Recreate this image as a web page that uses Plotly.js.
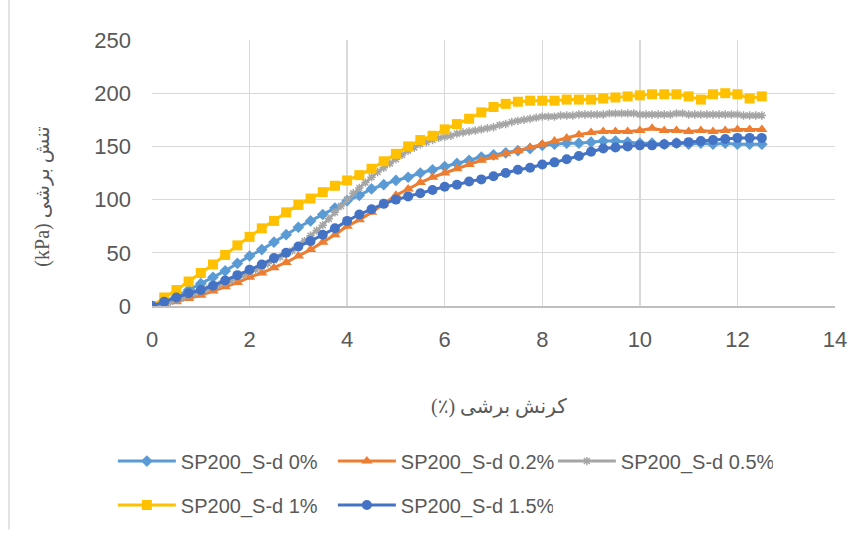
<!DOCTYPE html>
<html>
<head>
<meta charset="utf-8">
<script src="https://cdn.plot.ly/plotly-3.0.1.min.js"></script>
<style>
  html, body { margin: 0; padding: 0; background: #ffffff; }
  #chart { width: 866px; height: 536px; }
</style>
</head>
<body>
<div id="chart"></div>
<script>
// Shear strain (%) sampled every 0.25 %
const strain = [0, 0.25, 0.5, 0.75, 1, 1.25, 1.5, 1.75, 2, 2.25, 2.5, 2.75, 3, 3.25, 3.5, 3.75,
  4, 4.25, 4.5, 4.75, 5, 5.25, 5.5, 5.75, 6, 6.25, 6.5, 6.75, 7, 7.25, 7.5, 7.75,
  8, 8.25, 8.5, 8.75, 9, 9.25, 9.5, 9.75, 10, 10.25, 10.5, 10.75, 11, 11.25, 11.5, 11.75,
  12, 12.25, 12.5];

// The 0.5 % test was logged every 0.125 %
const strainFine = [0, 0.125, 0.25, 0.375, 0.5, 0.625, 0.75, 0.875, 1, 1.125, 1.25, 1.375, 1.5, 1.625, 1.75, 1.875,
  2, 2.125, 2.25, 2.375, 2.5, 2.625, 2.75, 2.875, 3, 3.125, 3.25, 3.375, 3.5, 3.625, 3.75, 3.875,
  4, 4.125, 4.25, 4.375, 4.5, 4.625, 4.75, 4.875, 5, 5.125, 5.25, 5.375, 5.5, 5.625, 5.75, 5.875,
  6, 6.125, 6.25, 6.375, 6.5, 6.625, 6.75, 6.875, 7, 7.125, 7.25, 7.375, 7.5, 7.625, 7.75, 7.875,
  8, 8.125, 8.25, 8.375, 8.5, 8.625, 8.75, 8.875, 9, 9.125, 9.25, 9.375, 9.5, 9.625, 9.75, 9.875,
  10, 10.125, 10.25, 10.375, 10.5, 10.625, 10.75, 10.875, 11, 11.125, 11.25, 11.375, 11.5, 11.625, 11.75, 11.875,
  12, 12.125, 12.25, 12.375, 12.5];

// Shear stress (kPa)
const stress0 = [0, 4, 9, 15, 21, 27, 33, 40, 47, 53, 60, 67, 74, 80, 86, 92,
  99, 104, 110, 114, 118, 121, 125, 128, 131, 134, 137, 140, 142, 144, 146, 148,
  151, 152, 153, 153, 154, 155, 155, 154, 153, 153, 152, 153, 152, 153, 152, 153,
  152, 152, 152];

const stress02 = [0, 2, 4, 7, 10, 14, 18, 22, 27, 31, 36, 41, 47, 53, 60, 67,
  75, 81, 88, 96, 104, 110, 116, 121, 125, 129, 133, 137, 140, 143, 146, 149,
  152, 155, 158, 161, 163, 164, 164, 164, 165, 167, 165, 165, 164, 165, 164, 165,
  166, 166, 166];

const stress05 = [0, 1, 3, 4, 6, 8, 10, 12, 14, 16, 18, 20, 22, 24, 27, 29,
  32, 34, 37, 40, 43, 46, 49, 52, 56, 61, 66, 71, 76, 82, 88, 94,
  100, 106, 111, 116, 121, 126, 130, 134, 138, 142, 146, 149, 152, 154, 156, 158,
  159, 160, 162, 163, 164, 165, 166, 167, 168, 170, 171, 173, 174, 175, 176, 177,
  178, 178, 178, 179, 179, 179, 180, 180, 180, 180, 180, 181, 181, 181, 181, 181,
  180, 180, 180, 180, 180, 180, 181, 181, 180, 180, 180, 180, 180, 180, 180, 180,
  180, 179, 179, 179, 179];

const stress1 = [0, 8, 15, 23, 31, 39, 48, 57, 65, 73, 80, 88, 95, 101, 107, 113,
  118, 123, 129, 136, 143, 150, 156, 160, 166, 171, 176, 182, 187, 190, 192, 193,
  193, 193, 194, 194, 194, 195, 196, 197, 198, 199, 199, 199, 197, 194, 199, 200,
  199, 195, 197];

const stress15 = [0, 4, 8, 12, 15, 19, 24, 29, 34, 39, 45, 50, 56, 61, 67, 73,
  80, 86, 91, 96, 100, 103, 106, 109, 112, 114, 117, 119, 122, 125, 128, 130,
  133, 135, 138, 141, 145, 148, 149, 150, 151, 151, 152, 153, 154, 155, 156, 157,
  158, 158, 158];

const seriesNames = ['SP200_S-d 0%', 'SP200_S-d 0.2%', 'SP200_S-d 0.5%', 'SP200_S-d 1%', 'SP200_S-d 1.5%'];
// Right-to-left embedding keeps the Persian titles (and their Latin units) in RTL order
const RLE = '\u202B';
const PDF = '\u202C';
const xTitle = RLE + 'کرنش برشی (٪)' + PDF;
const yTitle = RLE + 'تنش برشی (kPa)' + PDF;

const textColor = '#595959';
const gridColor = '#D9D9D9';
const latinFont = 'Liberation Sans, Arial, sans-serif';
const persianFont = 'Liberation Serif, DejaVu Sans, serif';

function series(x, y, name, color, symbol, size, legendId, extraMarker) {
  return {
    type: 'scatter',
    mode: 'lines+markers',
    x: x,
    y: y,
    name: name,
    legend: legendId,
    line: { color: color, width: 3 },
    marker: Object.assign({ color: color, symbol: symbol, size: size, line: { width: 0, color: color } }, extraMarker || {}),
    hoverinfo: 'x+y+name'
  };
}

const traces = [
  series(strain, stress0, seriesNames[0], '#5B9BD5', 'diamond', 9, 'legend'),
  series(strain, stress02, seriesNames[1], '#ED7D31', 'triangle-up', 10, 'legend'),
  series(strainFine, stress05, seriesNames[2], '#A5A5A5', 'asterisk-open', 7, 'legend',
    { line: { width: 1.5, color: '#A5A5A5' } }),
  series(strain, stress1, seriesNames[3], '#FFC000', 'square', 10, 'legend2'),
  series(strain, stress15, seriesNames[4], '#4472C4', 'circle', 10, 'legend2')
];

const legendBase = {
  orientation: 'h',
  xanchor: 'left',
  yanchor: 'middle',
  bgcolor: 'rgba(0,0,0,0)',
  borderwidth: 0,
  itemwidth: 58,
  entrywidth: 147,
  entrywidthmode: 'pixels',
  font: { family: latinFont, size: 20, color: textColor }
};

const layout = {
  width: 866,
  height: 536,
  margin: { l: 152, r: 31, t: 40, b: 226 },
  paper_bgcolor: '#ffffff',
  plot_bgcolor: '#ffffff',
  showlegend: true,
  xaxis: {
    range: [0, 14],
    dtick: 2,
    tick0: 0,
    showgrid: true,
    gridcolor: gridColor,
    gridwidth: 1.3,
    zeroline: false,
    showline: true,
    linecolor: '#BFBFBF',
    linewidth: 1.5,
    ticks: '',
    ticklabelstandoff: 13,
    tickfont: { family: latinFont, size: 22, color: textColor },
    fixedrange: true
  },
  yaxis: {
    range: [0, 250],
    dtick: 50,
    tick0: 0,
    showgrid: true,
    gridcolor: gridColor,
    gridwidth: 1.3,
    zeroline: false,
    showline: false,
    ticks: '',
    ticklabelstandoff: 20,
    tickfont: { family: latinFont, size: 22, color: textColor },
    fixedrange: true
  },
  legend: Object.assign({}, legendBase, { x: -0.0573, y: -0.583 }),
  legend2: Object.assign({}, legendBase, { x: -0.0573, y: -0.748 }),
  annotations: [
    {
      text: xTitle,
      xref: 'paper', yref: 'paper',
      x: 0.508, y: -0.378,
      xanchor: 'center', yanchor: 'middle',
      showarrow: false,
      font: { family: persianFont, size: 20, color: textColor }
    },
    {
      text: yTitle,
      xref: 'paper', yref: 'paper',
      x: -0.16, y: 0.41,
      xanchor: 'center', yanchor: 'middle',
      textangle: -90,
      showarrow: false,
      font: { family: persianFont, size: 20, color: textColor }
    }
  ],
  shapes: [
    {
      type: 'line',
      xref: 'paper', yref: 'paper',
      x0: -0.2094, x1: -0.2094,
      y0: -0.84, y1: 1.15,
      line: { color: gridColor, width: 1.5 }
    }
  ]
};

Plotly.newPlot('chart', traces, layout, { displayModeBar: false, staticPlot: true });
</script>
</body>
</html>
